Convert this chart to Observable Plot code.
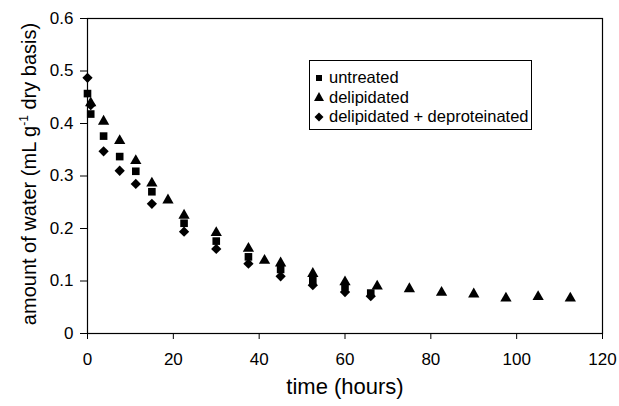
<!DOCTYPE html>
<html>
<head>
<meta charset="utf-8">
<script src="https://cdn.jsdelivr.net/npm/d3@7"></script>
<script src="https://cdn.jsdelivr.net/npm/@observablehq/plot@0.6"></script>
<style>
  body { margin: 0; background: #fff; font-family: "Liberation Sans", Arial, sans-serif; }
  #wrap { position: relative; width: 619px; height: 406px; }
  #legend { position: absolute; left: 309px; top: 60px; width: 221px; height: 61px; padding-top: 7px;
    border: 1px solid #000; background: #fff; font-size: 16.5px; color: #000; }
  #legend .row { display: flex; align-items: center; height: 19.5px; white-space: nowrap; }
  #legend svg { margin-left: 3px; margin-right: 4px; flex: none; }
</style>
</head>
<body>
<div id="wrap"></div>
<script>
// ---- data ----
const seriesNames = ["untreated", "delipidated", "delipidated + deproteinated"];

const timeUntreated  = [0, 0.75, 3.75, 7.5, 11.25, 15, 22.5, 30, 37.5, 45, 52.5, 60, 66];
const waterUntreated = [0.457, 0.418, 0.376, 0.337, 0.309, 0.270, 0.210, 0.176, 0.146, 0.122, 0.101, 0.089, 0.077];

const timeDelipidated  = [0.75, 3.75, 7.5, 11.25, 15, 18.75, 22.5, 30, 37.5, 41.25, 45, 52.5, 60, 67.5, 75, 82.5, 90, 97.5, 105, 112.5];
const waterDelipidated = [0.439, 0.404, 0.367, 0.329, 0.286, 0.254, 0.225, 0.192, 0.162, 0.139, 0.134, 0.114, 0.098, 0.090, 0.085, 0.078, 0.075, 0.067, 0.070, 0.067];

const timeDeprot  = [0, 0.75, 3.75, 7.5, 11.25, 15, 22.5, 30, 37.5, 45, 52.5, 60, 66];
const waterDeprot = [0.487, 0.435, 0.347, 0.310, 0.285, 0.247, 0.194, 0.161, 0.133, 0.109, 0.092, 0.079, 0.071];

const xTicks = [0, 20, 40, 60, 80, 100, 120];
const yTicks = [0, 0.1, 0.2, 0.3, 0.4, 0.5, 0.6];
const xLabel = "time (hours)";
const yLabel = "amount of water (mL g-1 dry basis)";

// ---- build tables ----
const toRows = (ts, ws, s) => ts.map((t, i) => ({time: t, water: ws[i], series: s}));
const untreated = toRows(timeUntreated, waterUntreated, seriesNames[0]);
const delipidated = toRows(timeDelipidated, waterDelipidated, seriesNames[1]);
const deprot = toRows(timeDeprot, waterDeprot, seriesNames[2]);

const diamond = {
  draw(ctx, size) {
    const h = Math.sqrt(size / 2);
    ctx.moveTo(0, -h); ctx.lineTo(h, 0); ctx.lineTo(0, h); ctx.lineTo(-h, 0); ctx.closePath();
  }
};

const font = "Liberation Sans, Arial, sans-serif";

const chart = Plot.plot({
  width: 619,
  height: 406,
  marginLeft: 87,
  marginRight: 17,
  marginTop: 18,
  marginBottom: 73,
  style: {fontFamily: font, background: "#fff", color: "#000", overflow: "visible"},
  x: {domain: [0, 120]},
  y: {domain: [0, 0.6]},
  marks: [
    Plot.frame({stroke: "#000", strokeWidth: 1.2}),
    Plot.axisY({ticks: yTicks, tickSize: 7, tickPadding: 7, fontSize: 17, label: null,
      tickFormat: d => d === 0 ? "0" : d.toFixed(1), stroke: "#000"}),
    Plot.axisX({ticks: xTicks, tickSize: 6, tickPadding: 13, fontSize: 17, label: null, stroke: "#000"}),
    Plot.dot(untreated, {x: "time", y: "water", symbol: "square", r: 4.3, fill: "#000", stroke: "none"}),
    Plot.dot(delipidated, {x: "time", y: "water", symbol: "triangle", r: 4.2, fill: "#000", stroke: "none"}),
    Plot.dot(deprot, {x: "time", y: "water", symbol: diamond, r: 4.1, fill: "#000", stroke: "none"}),
    Plot.text([xLabel], {text: d => d, frameAnchor: "bottom", lineAnchor: "middle", textAnchor: "middle",
      dy: 53, fontSize: 22, fill: "#000"}),
    Plot.text([yLabel], {text: d => d, frameAnchor: "left", lineAnchor: "middle", textAnchor: "middle",
      dx: -58, dy: -2, rotate: -90, fontSize: 20, fill: "#000"})
  ]
});

// superscript "-1" in the y label
chart.querySelectorAll("text").forEach(t => {
  if (t.textContent === yLabel) {
    const ns = "http://www.w3.org/2000/svg";
    const parts = yLabel.split("-1");
    t.textContent = "";
    const a = document.createElementNS(ns, "tspan"); a.textContent = parts[0];
    const b = document.createElementNS(ns, "tspan"); b.textContent = "-1";
    b.setAttribute("dy", "-8"); b.setAttribute("font-size", "12");
    const c = document.createElementNS(ns, "tspan"); c.textContent = parts[1];
    c.setAttribute("dy", "8");
    t.append(a, b, c);
  }
});

const wrap = document.getElementById("wrap");
wrap.appendChild(chart);

// legend
const legendSymbols = [
  '<rect x="3" y="3" width="6" height="6" fill="#000"/>',
  '<path d="M6,1 L11,10 L1,10 Z" fill="#000"/>',
  '<path d="M6,1.5 L10.5,6 L6,10.5 L1.5,6 Z" fill="#000"/>'
];
const legend = document.createElement("div");
legend.id = "legend";
legend.innerHTML = seriesNames.map((n, i) =>
  `<div class="row"><svg width="12" height="12" viewBox="0 0 12 12">${legendSymbols[i]}</svg><span>${n}</span></div>`
).join("");
wrap.appendChild(legend);
</script>
</body>
</html>
